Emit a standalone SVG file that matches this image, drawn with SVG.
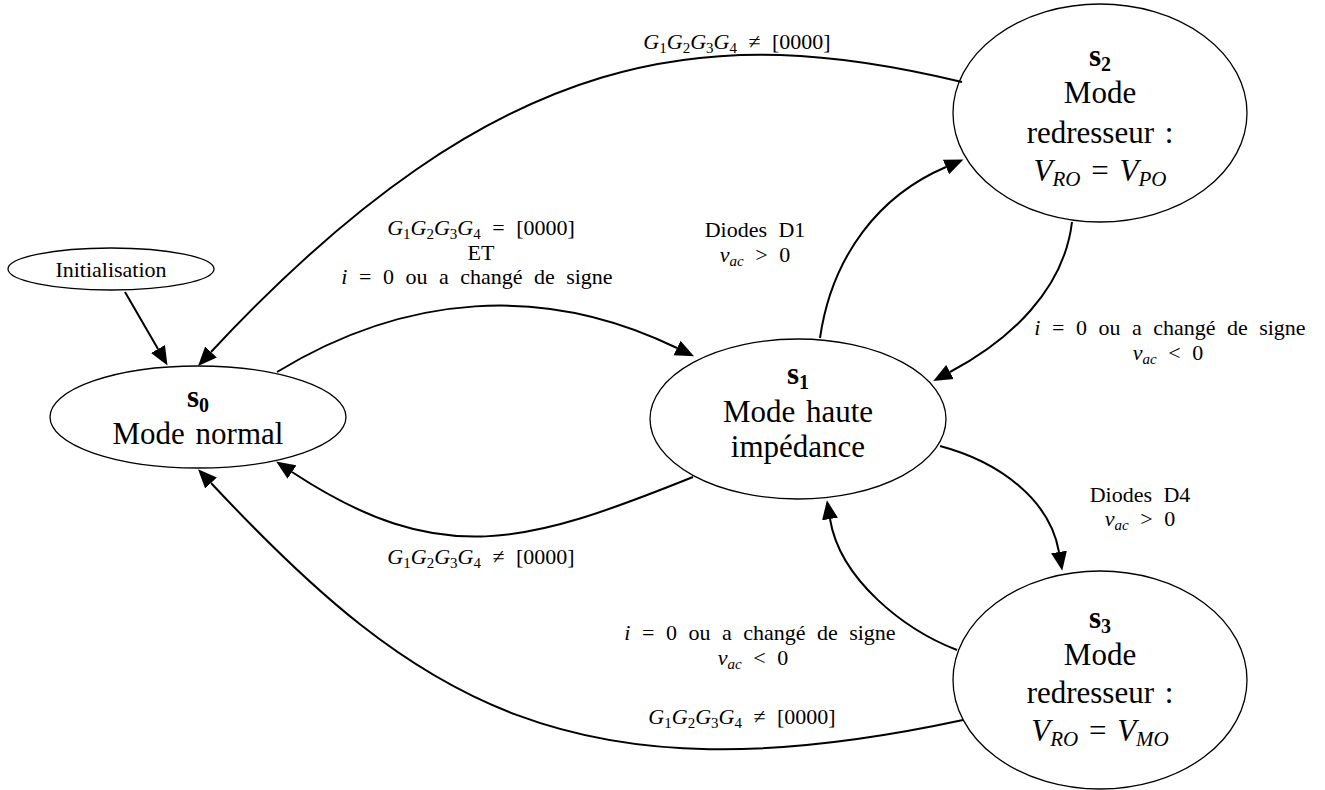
<svg xmlns="http://www.w3.org/2000/svg" width="1325" height="790" viewBox="0 0 1325 790">
<style>
.node ellipse{fill:none;stroke:#000;stroke-width:1.3}
.nt{font-family:"Liberation Serif","DejaVu Serif",serif;font-size:31px;text-anchor:middle;word-spacing:3px;fill:#000}
.lt{font-family:"Liberation Serif","DejaVu Serif",serif;font-size:22px;text-anchor:middle;word-spacing:6px;fill:#000}
.edges path{fill:none;stroke:#000;stroke-width:2;marker-end:url(#ah)}
.i{font-style:italic}
.b{font-weight:bold}
</style>
<defs>
<marker id="ah" markerUnits="userSpaceOnUse" markerWidth="20" markerHeight="17" refX="0" refY="8" orient="auto" viewBox="0 0 20 16"><path d="M0,0 L19,8 L0,16 z" fill="#000"/></marker>
</defs>
<rect width="1325" height="790" fill="#fff"/>
<g class="edges" id="edges">
<path d="M125,292 L158,349"/>
<path d="M962,82 C712,22 502,40 211,352"/>
<path d="M277,372 C405,294 544,283 677,348"/>
<path d="M693,477 C526,544 441,570 292,472"/>
<path d="M963,720 C572,804 416,702 211,483"/>
<path d="M820,338 C832,255 880,195 946,167"/>
<path d="M1072,222 C1064,290 1010,340 950,372"/>
<path d="M940,446 C1000,462 1050,500 1059,552"/>
<path d="M957,650 C905,630 840,580 830,519"/>
</g>
<g id="labels">
<text class="lt" x="737" y="49"><tspan class="i">G</tspan><tspan font-size="15" dy="4">1</tspan><tspan class="i" dy="-4">G</tspan><tspan font-size="15" dy="4">2</tspan><tspan class="i" dy="-4">G</tspan><tspan font-size="15" dy="4">3</tspan><tspan class="i" dy="-4">G</tspan><tspan font-size="15" dy="4">4</tspan><tspan dy="-4"> ≠ [0000]</tspan></text>
<text class="lt" x="481" y="235"><tspan class="i">G</tspan><tspan font-size="15" dy="4">1</tspan><tspan class="i" dy="-4">G</tspan><tspan font-size="15" dy="4">2</tspan><tspan class="i" dy="-4">G</tspan><tspan font-size="15" dy="4">3</tspan><tspan class="i" dy="-4">G</tspan><tspan font-size="15" dy="4">4</tspan><tspan dy="-4"> = [0000]</tspan></text>
<text class="lt" x="481" y="260">ET</text>
<text class="lt" x="477" y="284"><tspan class="i">i</tspan> = 0 ou a changé de signe</text>
<text class="lt" x="481" y="564"><tspan class="i">G</tspan><tspan font-size="15" dy="4">1</tspan><tspan class="i" dy="-4">G</tspan><tspan font-size="15" dy="4">2</tspan><tspan class="i" dy="-4">G</tspan><tspan font-size="15" dy="4">3</tspan><tspan class="i" dy="-4">G</tspan><tspan font-size="15" dy="4">4</tspan><tspan dy="-4"> ≠ [0000]</tspan></text>
<text class="lt" x="755" y="237">Diodes D1</text>
<text class="lt" x="755" y="262"><tspan class="i">v</tspan><tspan class="i" font-size="15" dy="4">ac</tspan><tspan dy="-4"> &gt; 0</tspan></text>
<text class="lt" x="1170" y="335"><tspan class="i">i</tspan> = 0 ou a changé de signe</text>
<text class="lt" x="1168" y="360"><tspan class="i">v</tspan><tspan class="i" font-size="15" dy="4">ac</tspan><tspan dy="-4"> &lt; 0</tspan></text>
<text class="lt" x="1140" y="502">Diodes D4</text>
<text class="lt" x="1140" y="526"><tspan class="i">v</tspan><tspan class="i" font-size="15" dy="4">ac</tspan><tspan dy="-4"> &gt; 0</tspan></text>
<text class="lt" x="760" y="640"><tspan class="i">i</tspan> = 0 ou a changé de signe</text>
<text class="lt" x="753" y="665"><tspan class="i">v</tspan><tspan class="i" font-size="15" dy="4">ac</tspan><tspan dy="-4"> &lt; 0</tspan></text>
<text class="lt" x="742" y="724"><tspan class="i">G</tspan><tspan font-size="15" dy="4">1</tspan><tspan class="i" dy="-4">G</tspan><tspan font-size="15" dy="4">2</tspan><tspan class="i" dy="-4">G</tspan><tspan font-size="15" dy="4">3</tspan><tspan class="i" dy="-4">G</tspan><tspan font-size="15" dy="4">4</tspan><tspan dy="-4"> ≠ [0000]</tspan></text>
</g>
<g class="node" id="init">
<ellipse cx="111" cy="269" rx="103" ry="21"/>
<text class="lt" x="111" y="277" font-size="24">Initialisation</text>
</g>
<g class="node" id="s0">
<ellipse cx="198" cy="417" rx="148" ry="51"/>
<text class="nt" x="198" y="407"><tspan class="b">s</tspan><tspan class="b" font-size="20" dy="5">0</tspan></text>
<text class="nt" x="198" y="444">Mode normal</text>
</g>
<g class="node" id="s1">
<ellipse cx="798" cy="419" rx="148" ry="80"/>
<text class="nt" x="798" y="384"><tspan class="b">s</tspan><tspan class="b" font-size="20" dy="5">1</tspan></text>
<text class="nt" x="798" y="422">Mode haute</text>
<text class="nt" x="798" y="457">impédance</text>
</g>
<g class="node" id="s2">
<ellipse cx="1100" cy="113" rx="147" ry="109"/>
<text class="nt" x="1100" y="66"><tspan class="b">s</tspan><tspan class="b" font-size="20" dy="5">2</tspan></text>
<text class="nt" x="1100" y="103">Mode</text>
<text class="nt" x="1100" y="143">redresseur :</text>
<text class="nt" x="1100" y="181"><tspan class="i">V</tspan><tspan class="i" font-size="21" dy="5">RO</tspan><tspan dy="-5"> = </tspan><tspan class="i">V</tspan><tspan class="i" font-size="21" dy="5">PO</tspan></text>
</g>
<g class="node" id="s3">
<ellipse cx="1100" cy="680" rx="147" ry="109"/>
<text class="nt" x="1100" y="628"><tspan class="b">s</tspan><tspan class="b" font-size="20" dy="5">3</tspan></text>
<text class="nt" x="1100" y="665">Mode</text>
<text class="nt" x="1100" y="703">redresseur :</text>
<text class="nt" x="1100" y="741"><tspan class="i">V</tspan><tspan class="i" font-size="21" dy="5">RO</tspan><tspan dy="-5"> = </tspan><tspan class="i">V</tspan><tspan class="i" font-size="21" dy="5">MO</tspan></text>
</g>
</svg>
